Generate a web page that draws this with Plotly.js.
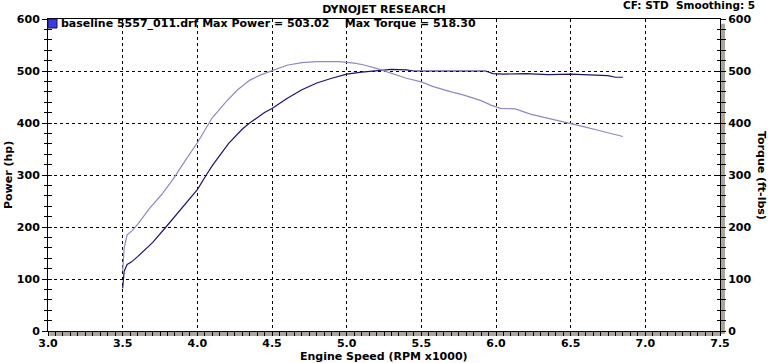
<!DOCTYPE html>
<html>
<head>
<meta charset="utf-8">
<script src="https://cdn.plot.ly/plotly-3.0.1.min.js"></script>
<style>html,body{margin:0;padding:0;background:#fff;}#chart{width:768px;height:363px;}</style>
</head>
<body>
<div id="chart"></div>
<script>
// RPM x1000 for the power curve
const powerRpm = [3.50,3.51,3.53,3.56,3.60,3.70,3.79,3.90,4.00,4.06,4.10,4.21,4.30,4.35,4.45,4.50,4.60,4.70,4.80,4.90,5.00,5.10,5.20,5.25,5.30,5.40,5.45,5.60,5.80,5.93,5.98,6.05,6.20,6.35,6.50,6.65,6.75,6.80,6.85];
const powerHp = [82,115,128,133,143,170,200,237,272,300,318,361,388,400,420,428,447,464,477,486,494,498,500,501,503,502,500,500,500,500,495,494,495,493,494,492,491,488,488];
// RPM x1000 for the torque curve
const torqueRpm = [3.50,3.51,3.53,3.56,3.60,3.68,3.76,3.84,3.92,4.00,4.10,4.19,4.27,4.35,4.42,4.50,4.60,4.70,4.80,4.90,4.95,5.05,5.11,5.20,5.30,5.40,5.50,5.58,5.70,5.78,5.90,5.97,6.03,6.13,6.23,6.35,6.50,6.60,6.67,6.75,6.85];
const torqueFtLbs = [115,160,185,192,205,236,262,293,328,362,410,440,464,482,492,500,511,516,518,518.3,518,515,512,505,495,486,479,470,460,454,443,434,428,427,417,409,400,392,387,381,374];

const chartTitle = "DYNOJET RESEARCH";
const cornerNote = "CF: STD  Smoothing: 5";
const legendText = "baseline 5557_011.drf Max Power = 503.02    Max Torque = 518.30";
const xTitle = "Engine Speed (RPM x1000)";
const yTitle = "Power (hp)";
const y2Title = "Torque (ft-lbs)";

const FONT = {family: "DejaVu Sans, Verdana, sans-serif", size: 11, color: "#000", weight: "bold"};
const SHADOW = "#aaa69e";

const traces = [
  {x: powerRpm, y: powerHp, type: "scatter", mode: "lines", line: {color: "#1c1470", width: 1.2}, yaxis: "y", hoverinfo: "skip"},
  {x: torqueRpm, y: torqueFtLbs, type: "scatter", mode: "lines", line: {color: "#8c8ac4", width: 1.2}, yaxis: "y2", hoverinfo: "skip"},
  {x: [], y: [], type: "scatter", yaxis: "y3", hoverinfo: "skip"},
  {x: [], y: [], type: "scatter", yaxis: "y4", hoverinfo: "skip"}
];

const layout = {
  width: 768, height: 363,
  margin: {l: 48, r: 48, t: 19, b: 32, pad: 0},
  paper_bgcolor: "#fff", plot_bgcolor: "#fff",
  showlegend: false,
  font: FONT,
  title: {text: chartTitle, x: 0.5, xanchor: "center", xref: "paper", y: 1 - 9/363, yref: "container", yanchor: "middle", font: FONT},
  xaxis: {
    range: [3, 7.5], dtick: 0.5, tick0: 3, tickformat: ".1f",
    showgrid: true, gridcolor: "#000", gridwidth: 1, griddash: "3px,3px",
    showline: true, linecolor: "#000", linewidth: 1, mirror: true,
    ticks: "outside", ticklen: 4, tickcolor: "#000", tickwidth: 1,
    minor: {dtick: 0.05, ticks: "outside", ticklen: 4, tickcolor: "#000", showgrid: false},
    zeroline: false, fixedrange: true,
    tickfont: FONT, ticklabelstandoff: -2
  },
  yaxis: {
    range: [0, 600], dtick: 100, tick0: 0,
    showgrid: true, gridcolor: "#000", gridwidth: 1, griddash: "3px,3px",
    showline: true, linecolor: "#000", linewidth: 1,
    ticks: "outside", ticklen: 5, tickcolor: "#000",
    minor: {dtick: 20, ticks: "outside", ticklen: 3, tickcolor: "#000", showgrid: false},
    zeroline: false, fixedrange: true, tickfont: FONT
  },
  yaxis3: {
    overlaying: "y", side: "left", range: [0, 600], dtick: 100,
    showgrid: false, showline: false, showticklabels: false, zeroline: false,
    ticks: "inside", ticklen: 4, tickcolor: "#000",
    minor: {dtick: 20, ticks: "inside", ticklen: 4, tickcolor: "#000"}
  },
  yaxis2: {
    overlaying: "y", side: "right", range: [0, 600], dtick: 100, tick0: 0,
    showgrid: false, showline: true, linecolor: "#000", linewidth: 1,
    ticks: "outside", ticklen: 5, tickcolor: "#000",
    minor: {dtick: 20, ticks: "outside", ticklen: 5, tickcolor: "#000"},
    zeroline: false, fixedrange: true, tickfont: FONT
  },
  yaxis4: {
    overlaying: "y", side: "right", range: [0, 600], dtick: 100,
    showgrid: false, showline: false, showticklabels: false, zeroline: false,
    ticks: "inside", ticklen: 3, tickcolor: "#000",
    minor: {dtick: 20, ticks: "inside", ticklen: 3, tickcolor: "#000"}
  },
  shapes: [
    {type: "rect", layer: "below", xref: "paper", yref: "paper", x0: 0.002, x1: 1, ysizemode: "pixel", yanchor: 0, y0: -5, y1: -1, fillcolor: SHADOW, line: {width: 0}},
    {type: "rect", layer: "below", xref: "paper", yref: "paper", y0: -0.01, y1: 0.985, xsizemode: "pixel", xanchor: 1, x0: 1, x1: 5, fillcolor: SHADOW, line: {width: 0}},
    {type: "rect", layer: "above", xref: "paper", yref: "paper", xsizemode: "pixel", ysizemode: "pixel", xanchor: 0, yanchor: 1, x0: 0, x1: 9, y0: -9, y1: 0, fillcolor: "#3c3cdc", line: {color: "#10105a", width: 1}}
  ],
  annotations: [
    {text: legendText, xref: "paper", yref: "paper", x: 0, xshift: 11, y: 1, yshift: -4, xanchor: "left", yanchor: "middle", showarrow: false, font: FONT},
    {text: cornerNote, xref: "paper", yref: "paper", x: 1, xshift: 37, y: 1, yshift: 14, xanchor: "right", yanchor: "middle", showarrow: false, font: {family: FONT.family, size: 10.5, color: "#000", weight: "bold"}},
    {text: xTitle, xref: "paper", yref: "paper", x: 0.5, y: 0, yshift: -25, xanchor: "center", yanchor: "middle", showarrow: false, font: FONT},
    {text: yTitle, xref: "paper", yref: "paper", x: 0, xshift: -40, y: 0.5, textangle: -90, xanchor: "center", yanchor: "middle", showarrow: false, font: FONT},
    {text: y2Title, xref: "paper", yref: "paper", x: 1, xshift: 42, y: 0.5, textangle: 90, xanchor: "center", yanchor: "middle", showarrow: false, font: FONT}
  ]
};

Plotly.newPlot("chart", traces, layout, {staticPlot: true, displayModeBar: false});
</script>
</body>
</html>
